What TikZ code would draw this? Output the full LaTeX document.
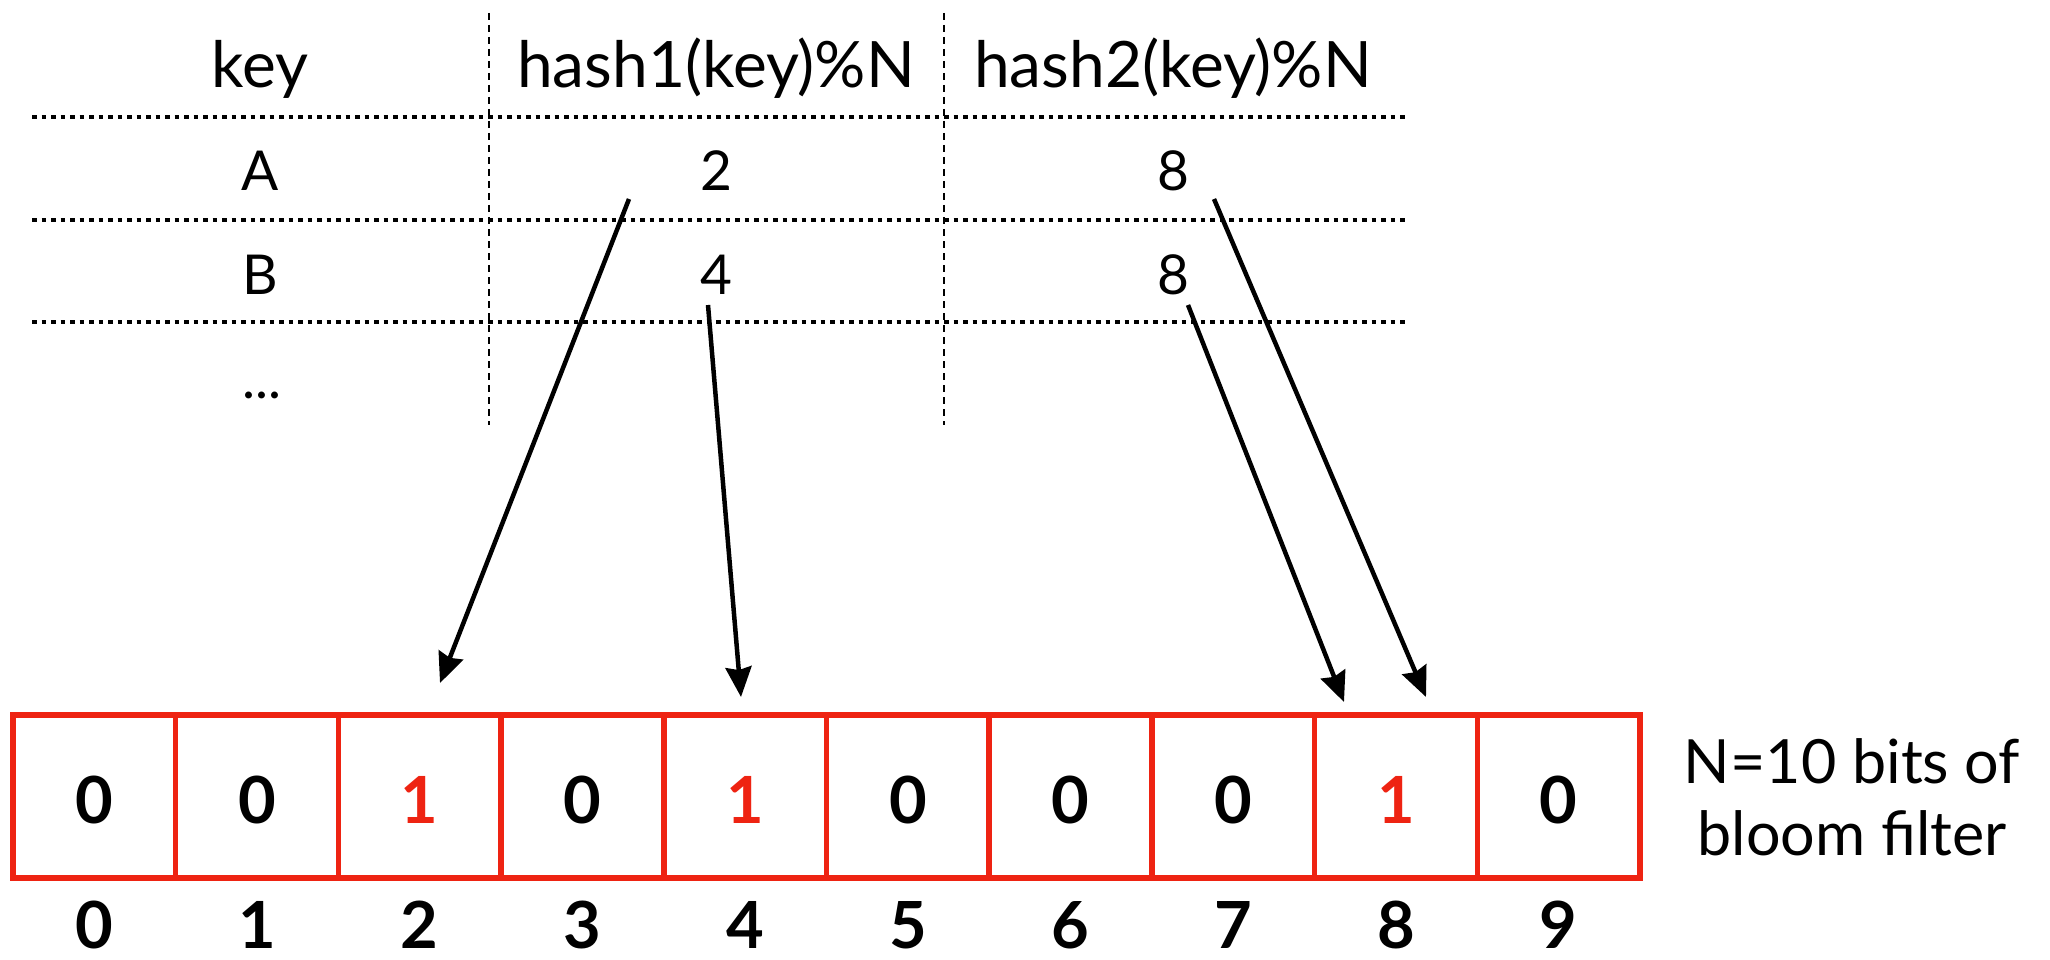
\documentclass[tikz,border=0pt]{standalone}
\usepackage{fontspec}
\setmainfont{Lato}
\usetikzlibrary{arrows.meta}
\definecolor{bfred}{RGB}{238,35,18}
\begin{document}
\begin{tikzpicture}[x=1pt,y=-1pt,
  hdr/.style={anchor=base,inner sep=0pt,font=\fontsize{64}{70}\selectfont},
  val/.style={anchor=base,inner sep=0pt,font=\fontsize{55}{62}\selectfont},
  lab/.style={anchor=base,inner sep=0pt,font=\fontsize{61}{70}\selectfont},
  cellbox/.style={draw=bfred,line width=5.5pt,minimum width=162.7pt,minimum height=163pt,inner sep=0pt},
  bit/.style={anchor=base,inner sep=0pt,font=\bfseries\fontsize{65}{70}\selectfont},
  hrule/.style={line width=3.5pt,dash pattern=on 4.5pt off 5pt},
  vrule/.style={line width=2.5pt,dash pattern=on 7pt off 5pt},
  link/.style={line width=4.5pt,-{Stealth[length=30pt,width=26pt,inset=3pt]}}]
\useasboundingbox (0,0) rectangle (2050,960);
% table grid
\draw[hrule] (32,117) -- (1405,117);
\draw[hrule] (32,220) -- (1405,220);
\draw[hrule] (32,322) -- (1405,322);
\draw[vrule] (489,13) -- (489,425);
\draw[vrule] (944,13) -- (944,425);
% header
\node[hdr] (hkey) at (260,88) {key};
\node[hdr] (hh1) at (716,88) {hash1(key)\%N};
\node[hdr] (hh2) at (1173,88) {hash2(key)\%N};
% rows
\node[val] (ka) at (260,191) {A};
\node[val] (a1) at (716,191) {2};
\node[val] (a2) at (1173,191) {8};
\node[val] (kb) at (260,294) {B};
\node[val] (b1) at (716,294) {4};
\node[val] (b2) at (1173,294) {8};
\node[val] (kd) at (262,398) {...};
% bit array
\foreach \i/\v/\c in {0/0/black,1/0/black,2/1/bfred,3/0/black,4/1/bfred,5/0/black,6/0/black,7/0/black,8/1/bfred,9/0/black}{
  \node[cellbox] (c\i) at ({13+162.7*(\i+0.5)},796.5) {};
  \node[bit,text=\c] (v\i) at ({13+162.7*(\i+0.5)},823) {\v};
  \node[bit] (n\i) at ({13+162.7*(\i+0.5)},948) {\i};
}
\node[lab] (l1) at (1852,783) {N=10 bits of};
\node[lab] (l2) at (1852,855) {bloom filter};
% arrows
\coordinate (s1) at (629,199);
\coordinate (t1) at (440,683);
\coordinate (s2) at (708,305);
\coordinate (t2) at (741,697);
\coordinate (s3) at (1188,305);
\coordinate (t3) at (1344,702);
\coordinate (s4) at (1214,199);
\coordinate (t4) at (1426,697);
\draw[link] (s1) -- (t1);
\draw[link] (s2) -- (t2);
\draw[link] (s3) -- (t3);
\draw[link] (s4) -- (t4);
\end{tikzpicture}
\end{document}
